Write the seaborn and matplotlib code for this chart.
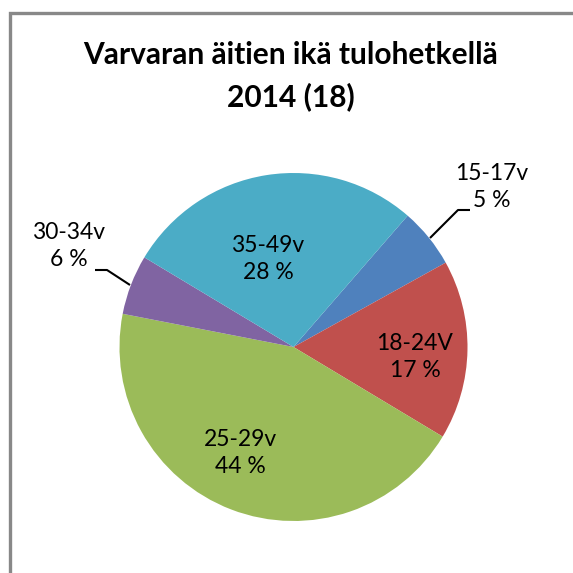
import matplotlib
matplotlib.use("Agg")
import matplotlib.pyplot as plt
import seaborn as sns
from matplotlib.patches import Rectangle

sns.set_theme(style="white")
plt.rcParams['font.family'] = ['Lato', 'DejaVu Sans']
plt.rcParams['text.color'] = 'black'

# Data
categories = ["15-17v", "18-24V", "25-29v", "30-34v", "35-49v"]
counts = [1, 3, 8, 1, 5]
pct_labels = ["5 %", "17 %", "44 %", "6 %", "28 %"]
colors = ["#4F81BD", "#C0504D", "#9BBB59", "#8064A2", "#4BACC6"]
title = "Varvaran äitien ikä tulohetkellä\n2014 (18)"

W = H = 573
fig = plt.figure(figsize=(W / 100, H / 100), dpi=100)
fig.patch.set_facecolor("white")

cx, cy, R = 293.5, 347.0, 174.0
ax = fig.add_axes([0, 0, 1, 1])

wedges, _ = ax.pie(counts, colors=colors, startangle=49, counterclock=False,
                   radius=1.0, center=(0, 0),
                   wedgeprops=dict(linewidth=0))

ax.set_xlim(-cx / R, (W - cx) / R)
ax.set_ylim(-(H - cy) / R, cy / R)
ax.set_aspect("equal")
ax.axis("off")

def px(x, y):
    return ((x - cx) / R, (cy - y) / R)

# label positions (pixel centres of label blocks)
label_pos = [(492, 187), (415, 357), (240, 453), (69, 246), (268, 259)]
for cat, pl, (lx, ly) in zip(categories, pct_labels, label_pos):
    x, y = px(lx, ly)
    ax.text(x, y, f"{cat}\n{pl}", ha="center", va="center", fontsize=16.5,
            linespacing=1.4, color="black")

# leader lines
for pts in ([(430, 238), (458, 210), (470, 210)],
            [(130, 285), (107, 270), (95, 270)]):
    xs, ys = zip(*[px(a, b) for a, b in pts])
    ax.plot(xs, ys, color="black", lw=1.5, solid_capstyle="butt")

fig.text(291 / W, 1 - 76 / H, title, ha="center", va="center",
         fontsize=21.5, fontweight="bold", linespacing=1.55, color="black")

# chart border
fig.patches.append(Rectangle((9.5 / W, -0.1), 1.2, 1 - 12.5 / H + 0.1,
                             transform=fig.transFigure, fill=False,
                             edgecolor="#888888", lw=2.4, zorder=10))

fig.savefig("out.png", dpi=100, facecolor="white")
